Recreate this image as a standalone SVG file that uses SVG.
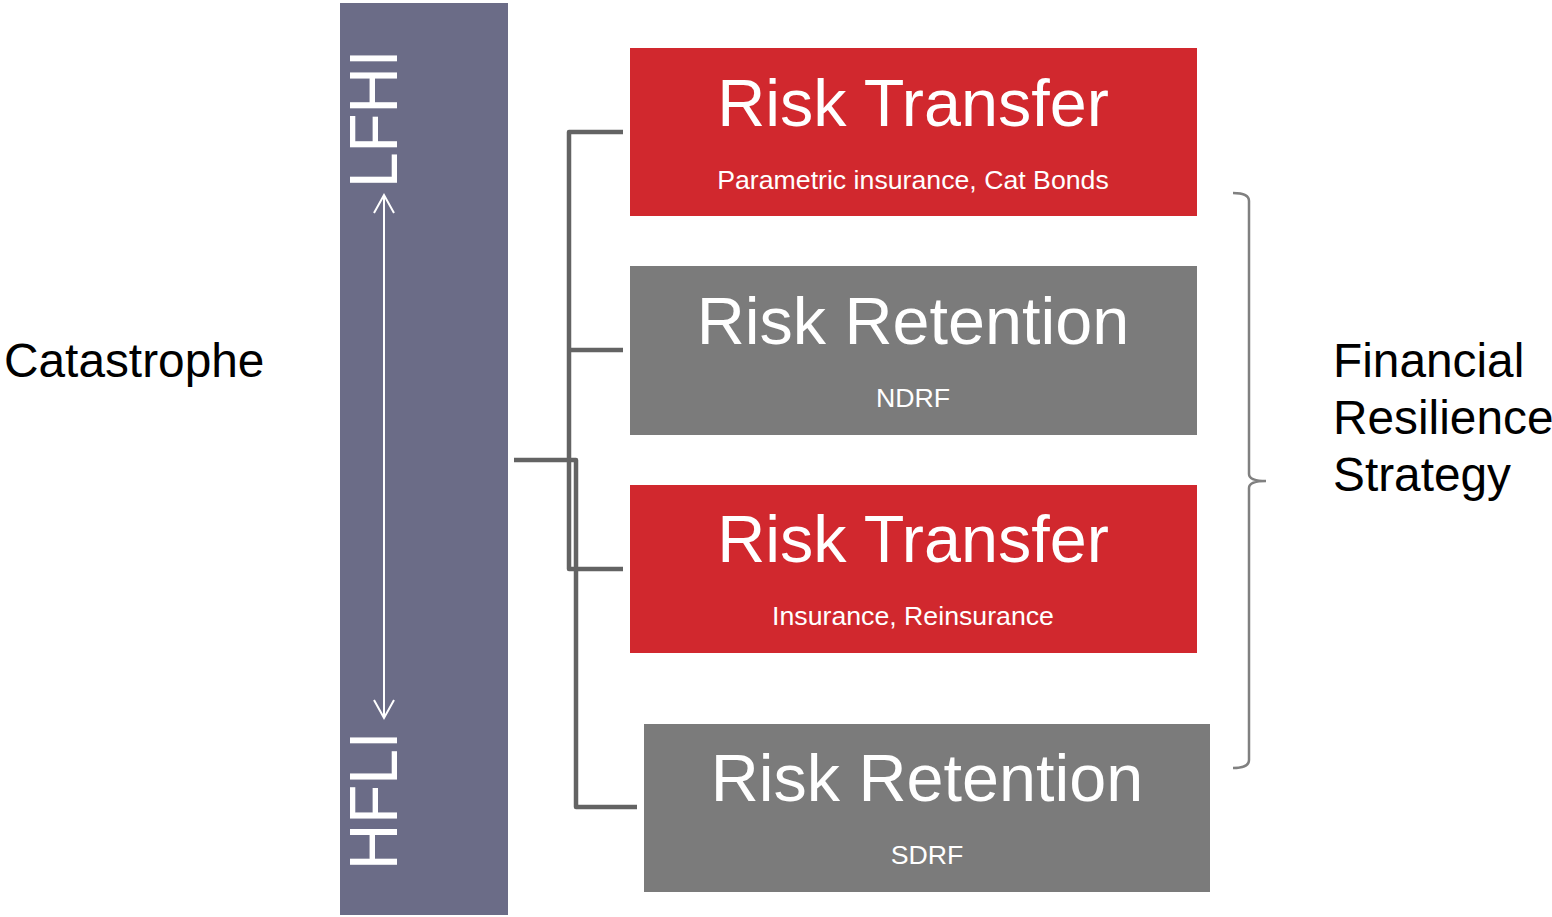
<svg xmlns="http://www.w3.org/2000/svg" width="1552" height="917" viewBox="0 0 1552 917">
<style>
text{font-family:"Liberation Sans",Arial,sans-serif}
.red{fill:#d1282e}
.gray{fill:#7b7b7b}
.title{fill:#fff;font-size:66.5px;text-anchor:middle}
.sub{fill:#fff;font-size:26.7px;text-anchor:middle}
.side{fill:#000;font-size:47.8px}
.axis{fill:#fff;font-size:68px}
.conn{fill:none;stroke:#636363;stroke-width:4.5;stroke-linejoin:round}
</style>
<defs>
<marker id="chev" viewBox="0 0 24 24" refX="20" refY="12" markerWidth="24" markerHeight="24" markerUnits="userSpaceOnUse" orient="auto-start-reverse">
<path d="M2 2 L20 12 L2 22" fill="none" stroke="#fff" stroke-width="2"/>
</marker>
</defs>
<rect width="1552" height="917" fill="#fff"/>
<g id="scale">
<rect x="340" y="3" width="168" height="912" fill="#6b6c87"/>
<text class="axis" transform="translate(397,188) rotate(-90) scale(0.94,1)">LFHI</text>
<text class="axis" transform="translate(397,870) rotate(-90) scale(0.94,1)">HFLI</text>
<line x1="384" y1="195" x2="384" y2="718" stroke="#fff" stroke-width="2" marker-start="url(#chev)" marker-end="url(#chev)"/>
</g>
<g id="catastrophe"><text class="side" x="4" y="377">Catastrophe</text></g>
<g id="strategy"><text class="side" x="1333" y="377">Financial</text><text class="side" x="1333" y="434">Resilience</text><text class="side" x="1333" y="491">Strategy</text></g>
<g id="connectors">
<path class="conn" d="M623 132 H569 V569 H623 M569 350 H623"/>
<path class="conn" d="M514 460 H576 V807 H637"/>
<path d="M1233 193 Q1249 193 1249 201 V474 Q1249 481 1266 481 Q1249 481 1249 488 V760 Q1249 768 1233 768" fill="none" stroke="#808080" stroke-width="2.5"/>
</g>
<g id="transfer1">
<rect class="red" x="630" y="48" width="567" height="168"/>
<text class="title" x="913" y="126">Risk Transfer</text>
<text class="sub" x="913" y="189">Parametric insurance, Cat Bonds</text>
</g>
<g id="retention1">
<rect class="gray" x="630" y="266" width="567" height="169"/>
<text class="title" x="913" y="344">Risk Retention</text>
<text class="sub" x="913" y="407">NDRF</text>
</g>
<g id="transfer2">
<rect class="red" x="630" y="485" width="567" height="168"/>
<text class="title" x="913" y="562">Risk Transfer</text>
<text class="sub" x="913" y="625">Insurance, Reinsurance</text>
</g>
<g id="retention2">
<rect class="gray" x="644" y="724" width="566" height="168"/>
<text class="title" x="927" y="801">Risk Retention</text>
<text class="sub" x="927" y="864">SDRF</text>
</g>
</svg>
